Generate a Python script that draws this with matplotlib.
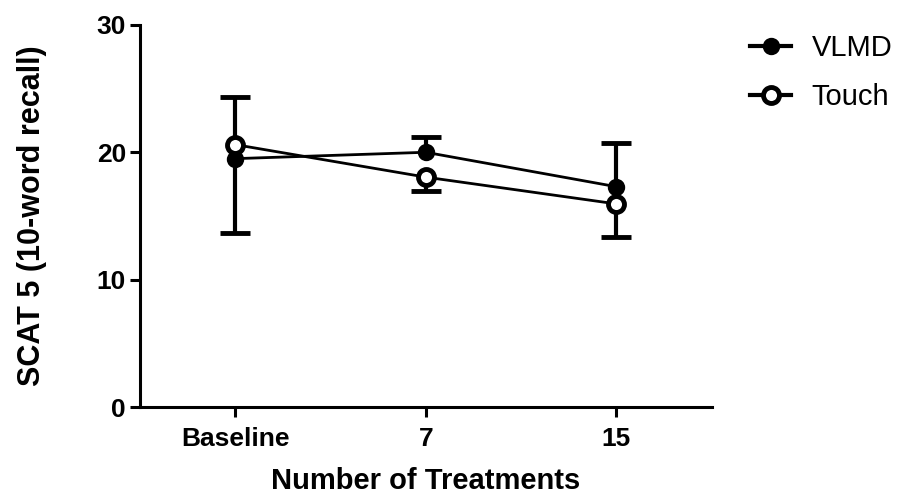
import matplotlib
matplotlib.use("Agg")
import matplotlib.pyplot as plt
import numpy as np

plt.rcParams['font.family'] = ['Liberation Sans', 'DejaVu Sans']

categories = ["Baseline", "7", "15"]
vlmd_mean = [19.5, 20.0, 17.3]
vlmd_err_low = [5.8, 0.0, 0.0]
vlmd_err_up = [0.0, 1.2, 3.4]
touch_mean = [20.6, 18.05, 15.95]
touch_err_low = [0.0, 1.05, 2.6]
touch_err_up = [3.75, 0.0, 0.0]
yticks = [0, 10, 20, 30]

fig = plt.figure(figsize=(9.03, 4.96), dpi=100)
ax = fig.add_axes([0.155, 0.179, 0.633, 0.771])
x = np.arange(len(categories))


def draw_one_sided(xs, mean, low, up, z):
    # draw only the non-zero sides so no caps appear on the mean itself
    xs = np.asarray(xs, float)
    mean = np.asarray(mean, float)
    low = np.asarray(low, float)
    up = np.asarray(up, float)
    for sign, err in ((-1, low), (1, up)):
        m = err > 0
        if not m.any():
            continue
        ends = mean[m] + sign * err[m]
        ax.vlines(xs[m], mean[m], ends, colors='black', lw=3, zorder=z)
        ax.plot(xs[m], ends, ls='none', marker='_', ms=21, mew=3.5,
                color='black', zorder=z)


draw_one_sided(x, vlmd_mean, vlmd_err_low, vlmd_err_up, 2)
draw_one_sided(x, touch_mean, touch_err_low, touch_err_up, 2)

h1, = ax.plot(x, vlmd_mean, color='black', lw=2, marker='o', ms=10.5,
              mfc='black', mec='black', mew=2, label='VLMD', zorder=3)
h2, = ax.plot(x, touch_mean, color='black', lw=2, marker='o', ms=11.5,
              mfc='white', mec='black', mew=3.5, label='Touch', zorder=4)

ax.set_xlim(-0.5, 2.5)
ax.set_ylim(0, 30)
ax.set_yticks(yticks)
ax.set_xticks(x)
ax.set_xticklabels(categories)
for s in ['top', 'right']:
    ax.spines[s].set_visible(False)
for s in ['left', 'bottom']:
    ax.spines[s].set_linewidth(2.2)
ax.tick_params(axis='both', width=2.2, length=7, direction='out', labelsize=19, pad=3)
ax.tick_params(axis='x', pad=7)
for lab in ax.get_xticklabels() + ax.get_yticklabels():
    lab.set_fontweight('bold')
ax.set_ylabel('SCAT 5 (10-word recall)', fontsize=22, fontweight='bold', labelpad=36)
ax.set_xlabel('Number of Treatments', fontsize=21, fontweight='bold', labelpad=12)

leg = fig.legend([h1, h2], ['VLMD', 'Touch'], loc='upper left',
                 bbox_to_anchor=(0.818, 0.955), borderaxespad=0,
                 frameon=False, fontsize=21, handlelength=1.4, handletextpad=0.7,
                 labelspacing=0.72)
for ln in leg.get_lines():
    ln.set_linewidth(3)

fig.savefig('out.png', dpi=100)
